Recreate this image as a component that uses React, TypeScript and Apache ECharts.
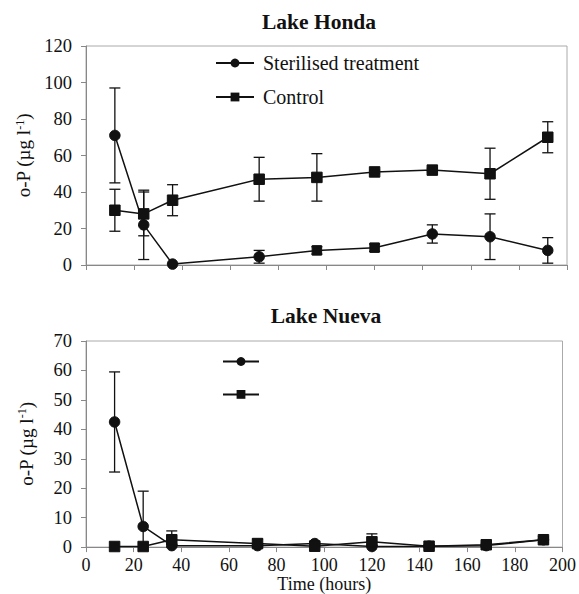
import React, { useEffect, useRef } from "react";
import * as echarts from "echarts";

const hours = [12, 24, 36, 72, 96, 120, 144, 168, 192];
const hondaSterilised = [71, 22, 0.5, 4.5, 8, 9.5, 17, 15.5, 8];
const hondaSterilisedErr = [26, 19, 0, 3.5, 2, 2, 5, 12.5, 7];
const hondaControl = [30, 28, 35.5, 47, 48, 51, 52, 50, 70];
const hondaControlErr = [11.5, 12, 8.5, 12, 13, 1, 1, 14, 8.5];
const nuevaSterilised = [42.5, 7, 0.5, 0.5, 1.2, 0.2, 0.3, 0.5, 2.5];
const nuevaSterilisedErr = [17, 12, 0.5, 0.5, 0.8, 0.3, 0.3, 0.3, 1];
const nuevaControl = [0.2, 0.2, 2.5, 1.2, 0.3, 1.8, 0.3, 0.8, 2.5];
const nuevaControlErr = [0, 0, 3, 1.5, 0.5, 2.7, 0.3, 0.5, 1];
const squareMarkedHours = [96, 120];

const FONT = "Liberation Serif";
const INK = "#111";

function errData(vals: number[], errs: number[]) {
  return hours.map((h, i) => [h, vals[i] - errs[i], vals[i] + errs[i]]);
}

function errSeries(name: string, idx: number, vals: number[], errs: number[]) {
  return {
    type: "custom",
    name: name + "-err",
    xAxisIndex: idx,
    yAxisIndex: idx,
    silent: true,
    z: 1,
    encode: { x: 0, y: [1, 2] },
    data: errData(vals, errs),
    renderItem: (params: any, api: any) => {
      const x = api.value(0);
      const lo = api.value(1);
      const hi = api.value(2);
      if (hi - lo <= 0) return { type: "group", children: [] };
      const clamped = lo < 0;
      const pLo = api.coord([x, Math.max(0, lo)]);
      const pHi = api.coord([x, hi]);
      const w = 5.5;
      const st = { stroke: INK, lineWidth: 1.3 };
      const children: any[] = [
        { type: "line", shape: { x1: pLo[0], y1: pLo[1], x2: pHi[0], y2: pHi[1] }, style: st },
        { type: "line", shape: { x1: pHi[0] - w, y1: pHi[1], x2: pHi[0] + w, y2: pHi[1] }, style: st },
      ];
      if (!clamped) {
        children.push({ type: "line", shape: { x1: pLo[0] - w, y1: pLo[1], x2: pLo[0] + w, y2: pLo[1] }, style: st });
      }
      return { type: "group", children };
    },
  };
}

function lineSeries(name: string, idx: number, vals: number[], symbol: string, rectAt: number[] = []) {
  return {
    type: "line",
    name,
    xAxisIndex: idx,
    yAxisIndex: idx,
    z: 3,
    symbol,
    symbolSize: 10.5,
    showAllSymbol: true,
    lineStyle: { color: INK, width: 1.5 },
    itemStyle: { color: INK, borderColor: INK },
    data: hours.map((h, i) =>
      rectAt.includes(h) ? { value: [h, vals[i]], symbol: "rect", symbolSize: 9.5 } : [h, vals[i]]
    ),
  };
}

function yAxis(idx: number, max: number, interval: number) {
  return {
    type: "value",
    gridIndex: idx,
    min: 0,
    max,
    interval,
    name: "{a|o-P (µg l}{s|-1}{a|)}",
    nameLocation: "middle",
    nameGap: 50,
    nameRotate: 90,
    nameTextStyle: {
      fontFamily: FONT,
      rich: {
        a: { fontFamily: FONT, fontSize: 19, color: INK },
        s: { fontFamily: FONT, fontSize: 12, color: INK, verticalAlign: "top", padding: [0, 0, 8, 0] },
      },
    },
    axisLine: { show: true, lineStyle: { color: "#888", width: 1 } },
    axisTick: { show: true, length: 5, lineStyle: { color: "#888" } },
    axisLabel: { fontFamily: FONT, fontSize: 18.5, color: INK, margin: 14 },
    splitLine: { show: false },
  };
}

function xAxis(idx: number, showLabels: boolean) {
  return {
    type: "value",
    gridIndex: idx,
    min: 0,
    max: 200,
    interval: 20,
    name: showLabels ? "Time (hours)" : "",
    nameLocation: "middle",
    nameGap: 27,
    nameTextStyle: { fontFamily: FONT, fontSize: 18, color: INK },
    axisLine: { show: true, onZero: false, lineStyle: { color: "#888", width: 1 } },
    axisTick: { show: true, length: 5, lineStyle: { color: "#888" } },
    axisLabel: { show: showLabels, fontFamily: FONT, fontSize: 18, color: INK, margin: 9 },
    splitLine: { show: false },
  };
}

export default function App() {
  const ref = useRef<HTMLDivElement>(null);
  useEffect(() => {
    if (!ref.current) return;
    const chart = echarts.init(ref.current, undefined, { renderer: "svg" });
    chart.setOption({
      animation: false,
      backgroundColor: "#fff",
      textStyle: { fontFamily: FONT },
      title: [
        {
          text: "Lake Honda",
          left: 314,
          top: 6,
          textAlign: "center",
          textStyle: { fontFamily: FONT, fontSize: 21.5, fontWeight: "bold", color: INK },
        },
        {
          text: "Lake Nueva",
          left: 321,
          top: 300,
          textAlign: "center",
          textStyle: { fontFamily: FONT, fontSize: 21.5, fontWeight: "bold", color: INK },
        },
      ],
      legend: [
        {
          orient: "vertical",
          left: 215,
          top: 53,
          padding: 0,
          itemWidth: 38,
          itemHeight: 11,
          itemGap: 14,
          data: ["Sterilised treatment", "Control"],
          textStyle: { fontFamily: FONT, fontSize: 20, color: INK, padding: [0, 0, 0, 4] },
          selectedMode: false,
        },
        {
          orient: "vertical",
          left: 222,
          top: 356,
          padding: 0,
          itemWidth: 36,
          itemHeight: 11,
          itemGap: 23,
          data: ["Sterilised treatment", "Control"],
          formatter: () => "",
          textStyle: { fontFamily: FONT, fontSize: 11, color: INK },
          selectedMode: false,
        },
      ],
      grid: [
        { left: 86, top: 46, width: 481, height: 219, show: true, borderColor: "#aaa", borderWidth: 1 },
        { left: 86, top: 341, width: 481, height: 221, show: true, borderColor: "#aaa", borderWidth: 1 },
      ],
      xAxis: [xAxis(0, false), xAxis(1, true)],
      yAxis: [yAxis(0, 120, 20), yAxis(1, 70, 10)],
      series: [
        errSeries("hs", 0, hondaSterilised, hondaSterilisedErr),
        errSeries("hc", 0, hondaControl, hondaControlErr),
        lineSeries("Sterilised treatment", 0, hondaSterilised, "circle", squareMarkedHours),
        lineSeries("Control", 0, hondaControl, "rect"),
        errSeries("ns", 1, nuevaSterilised, nuevaSterilisedErr),
        errSeries("nc", 1, nuevaControl, nuevaControlErr),
        lineSeries("Sterilised treatment", 1, nuevaSterilised, "circle"),
        lineSeries("Control", 1, nuevaControl, "rect"),
      ],
    });
    return () => chart.dispose();
  }, []);
  return <div ref={ref} style={{ width: 579, height: 594, position: "absolute", left: 0, top: 0 }} />;
}
